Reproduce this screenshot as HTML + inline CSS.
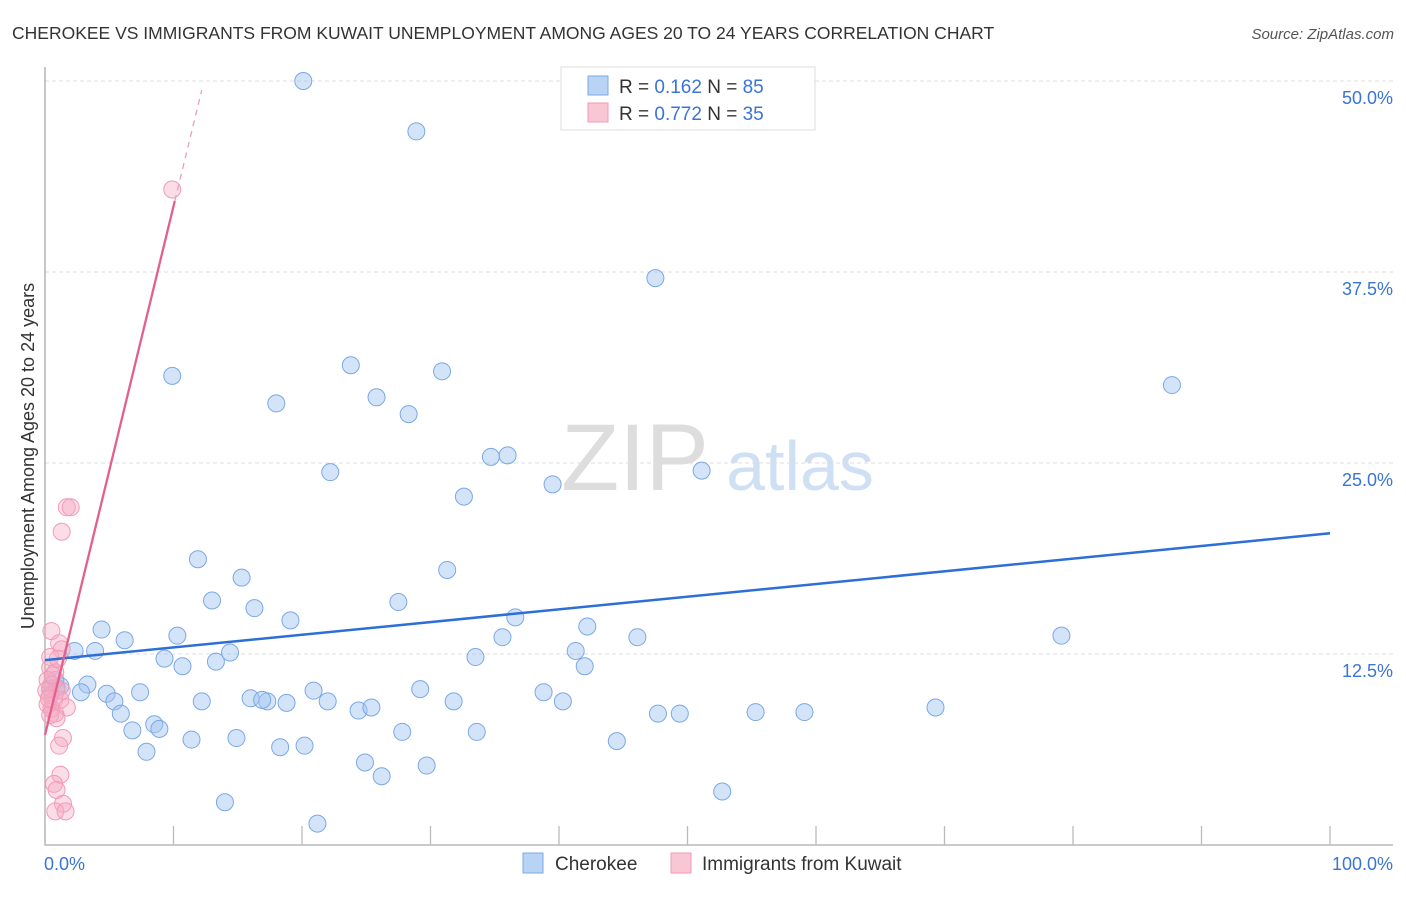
<!DOCTYPE html>
<html><head><meta charset="utf-8"><style>
body{margin:0;background:#fff;font-family:"Liberation Sans",sans-serif;}
svg text{font-family:"Liberation Sans",sans-serif;}
</style></head><body>
<svg id="chart" width="1406" height="892" viewBox="0 0 1406 892">
<text x="12" y="39" font-size="17.5" fill="#333">CHEROKEE VS IMMIGRANTS FROM KUWAIT UNEMPLOYMENT AMONG AGES 20 TO 24 YEARS CORRELATION CHART</text>
<text x="1394" y="39" font-size="15" fill="#555" text-anchor="end" font-style="italic">Source: ZipAtlas.com</text>
<g>
<text x="635" y="490" font-size="95" fill="#ddd" text-anchor="middle" font-family="Liberation Serif,serif">ZIP</text>
<text x="800" y="490" font-size="70" fill="#cfe0f5" text-anchor="middle">atlas</text>
</g>
<g id="grid"></g>
<g id="axes"></g>
<g id="marks"></g>
<g>
<rect x="561" y="67" width="254" height="63" fill="#fff" stroke="#ddd"/>
<rect x="588" y="76" width="20" height="19" fill="#b9d3f5" stroke="#7aa8e6"/>
<rect x="588" y="103" width="20" height="19" fill="#f9c6d6" stroke="#f29bb6"/>
<text x="619" y="93" font-size="19" fill="#333">R = <tspan fill="#3a74d4">0.162</tspan>   N = <tspan fill="#3a74d4">85</tspan></text>
<text x="619" y="120" font-size="19" fill="#333">R = <tspan fill="#3a74d4">0.772</tspan>   N = <tspan fill="#3a74d4">35</tspan></text>
</g>
<g>
<rect x="523" y="853" width="20" height="20" fill="#b9d3f5" stroke="#7aa8e6"/>
<text x="555" y="870" font-size="19" fill="#333">Cherokee</text>
<rect x="671" y="853" width="20" height="20" fill="#f9c6d6" stroke="#f29bb6"/>
<text x="702" y="870" font-size="19" fill="#333">Immigrants from Kuwait</text>
</g>
<text transform="translate(34,456) rotate(-90)" font-size="18" fill="#333" text-anchor="middle">Unemployment Among Ages 20 to 24 years</text>
</svg>
<script>
const yTicks=[12.5,25,37.5,50];
const yTickLabels=["12.5%","25.0%","37.5%","50.0%"];
const xTickVals=[0,10,20,30,40,50,60,70,80,90,100];
const cherokeeX=[20.1,28.9,47.5,87.7,9.9,23.8,30.9,18.0,25.8,28.3,22.2,34.7,36.0,51.1,39.5,32.6,11.9,31.3,15.3,13.0,16.3,27.5,19.1,36.6,4.4,10.3,6.2,42.2,35.6,46.1,79.1,2.3,3.9,14.4,41.3,9.3,13.3,33.5,10.7,42.0,1.2,3.3,20.9,29.2,4.8,38.8,16.0,17.3,22.0,0.9,2.8,7.4,5.4,12.2,16.9,18.8,31.8,40.3,24.4,25.4,69.3,5.9,47.7,49.4,55.3,59.1,8.5,6.8,8.9,27.8,33.6,11.4,14.9,44.5,18.3,20.2,7.9,24.9,29.7,26.2,52.7,14.0,21.2,0.8,0.4];
const cherokeeY=[50.0,46.7,37.1,30.1,30.7,31.4,31.0,28.9,29.3,28.2,24.4,25.4,25.5,24.5,23.6,22.8,18.7,18.0,17.5,16.0,15.5,15.9,14.7,14.9,14.1,13.7,13.4,14.3,13.6,13.6,13.7,12.7,12.7,12.6,12.7,12.2,12.0,12.3,11.7,11.7,10.4,10.5,10.1,10.2,9.9,10.0,9.6,9.4,9.4,10.3,10.0,10.0,9.4,9.4,9.5,9.3,9.4,9.4,8.8,9.0,9.0,8.6,8.6,8.6,8.7,8.7,7.9,7.5,7.6,7.4,7.4,6.9,7.0,6.8,6.4,6.5,6.1,5.4,5.2,4.5,3.5,2.8,1.4,10.8,10.2];
const kuwaitX=[9.9,1.7,2.0,1.3,0.5,1.1,1.3,0.4,0.8,0.2,0.5,0.9,0.4,0.7,1.2,0.2,0.5,0.8,1.7,0.4,0.9,1.4,1.1,1.2,0.7,0.9,1.4,0.8,1.6,0.4,1.0,0.6,0.1,0.3,1.3];
const kuwaitY=[42.9,22.1,22.1,20.5,14.0,13.2,12.8,11.6,11.3,10.8,10.5,10.1,9.8,9.5,9.5,9.2,8.9,8.6,9.0,8.5,8.3,7.0,6.5,4.6,4.0,3.6,2.7,2.2,2.2,12.3,12.2,11.1,10.1,9.6,10.1];
const cherokeeTrend=[12.1,20.4];   // y at x=0 and x=100
const kuwaitTrend=[7.2,3.46];      // intercept, slope
const X0=45,X1=1330,Y0=845,Y50=81;
const sx=v=>X0+(X1-X0)*v/100;
const sy=v=>Y0-(Y0-Y50)*v/50;
const NS="http://www.w3.org/2000/svg";
function mk(parent,tag,attrs){const e=document.createElementNS(NS,tag);for(const k in attrs)e.setAttribute(k,attrs[k]);document.getElementById(parent).appendChild(e);return e;}
yTicks.forEach((t,i)=>{
 const g=mk('grid','line',{x1:X0,x2:1393,y1:sy(t),y2:sy(t),stroke:'#ddd','stroke-dasharray':'4,3'});
 
 
 const l=mk('axes','text',{x:1393,y:sy(t)+23,'font-size':18,fill:'#3a74d4','text-anchor':'end'});
 l.textContent=yTickLabels[i];
 
 
});
const ax=mk('axes','path',{d:`M${X0} 67 V${Y0} H1393`,fill:'none',stroke:'#aaa','stroke-width':1.3});


xTickVals.forEach(t=>{if(t===0)return;
 const tk=mk('axes','line',{x1:sx(t),x2:sx(t),y1:Y0-19,y2:Y0,stroke:'#bbb','stroke-width':1.3});
 
 
});
const xl0=mk('axes','text',{x:44,y:870,'font-size':18,fill:'#3a74d4'});xl0.textContent='0.0%';


const xl1=mk('axes','text',{x:1393,y:870,'font-size':18,fill:'#3a74d4','text-anchor':'end'});xl1.textContent='100.0%';


cherokeeX.forEach((x,i)=>{
 const c=mk('marks','circle',{cx:sx(x),cy:sy(cherokeeY[i]),r:8.5,fill:'rgba(160,196,240,0.45)',stroke:'#7aa8e6','stroke-width':1});
 
 
});
kuwaitX.forEach((x,i)=>{
 const c=mk('marks','circle',{cx:sx(x),cy:sy(kuwaitY[i]),r:8.5,fill:'rgba(246,170,195,0.4)',stroke:'#f29bb6','stroke-width':1});
 
 
});
const bl=mk('marks','line',{x1:sx(0),y1:sy(cherokeeTrend[0]),x2:sx(100),y2:sy(cherokeeTrend[1]),stroke:'#2d6fd6','stroke-width':2.5});


const kx=10.1,kx2=12.2;
const pl=mk('marks','line',{x1:sx(0),y1:sy(kuwaitTrend[0]),x2:sx(kx),y2:sy(kuwaitTrend[0]+kuwaitTrend[1]*kx),stroke:'#e2608e','stroke-width':2.3});


const pd=mk('marks','line',{x1:sx(kx),y1:sy(kuwaitTrend[0]+kuwaitTrend[1]*kx),x2:sx(kx2),y2:sy(kuwaitTrend[0]+kuwaitTrend[1]*kx2),stroke:'#eaa0ba','stroke-width':1.3,'stroke-dasharray':'6,5'});


</script>
</body></html>
